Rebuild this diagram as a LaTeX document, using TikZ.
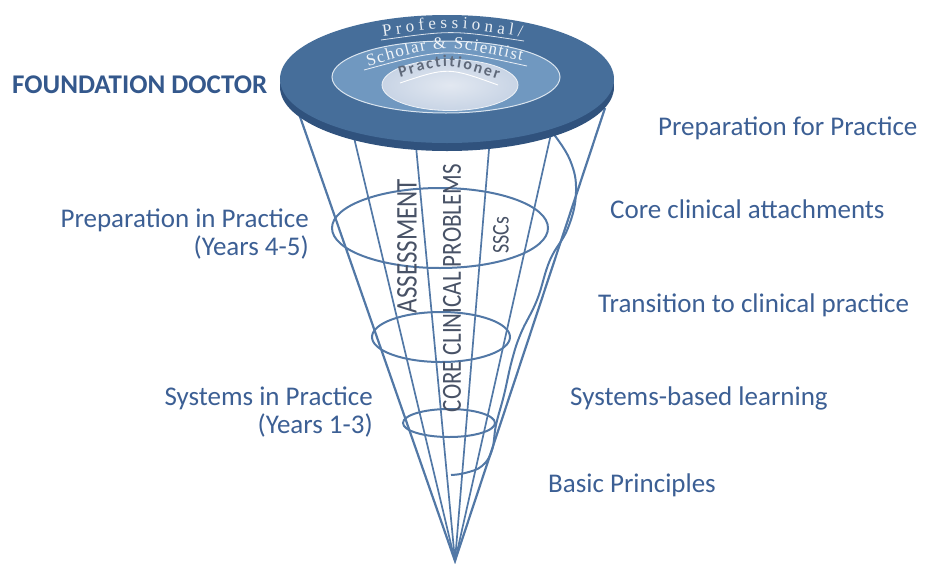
\documentclass[tikz,border=0pt]{standalone}
\usepackage{fontspec}
\setmainfont{Carlito}
\newfontfamily\discserif{Liberation Serif}
\usetikzlibrary{decorations.text}
\definecolor{lblue}{RGB}{60,95,148}
\definecolor{fdblue}{RGB}{52,88,140}
\definecolor{conecol}{RGB}{82,120,166}
\definecolor{conetxt}{RGB}{72,82,102}
\definecolor{discdark}{RGB}{48,82,125}
\definecolor{discouter}{RGB}{70,110,154}
\definecolor{discmid}{RGB}{112,152,192}
\definecolor{discin}{RGB}{200,212,229}
\definecolor{discinlight}{RGB}{226,232,241}
\definecolor{practxt}{RGB}{95,105,122}
\begin{document}
\begin{tikzpicture}[x=1pt,y=-1pt,
  lbl/.style={text=lblue, font=\fontsize{27}{30}\selectfont, inner sep=0pt},
  meridian/.style={draw=conecol, line width=1.7pt},
  rim/.style={draw=conecol, line width=2.2pt},
  ring/.style={draw=conecol, line width=2pt},
  conelbl/.style={text=conetxt, rotate=90, yscale=1.2, inner sep=0pt}
]
\useasboundingbox (0,0) rectangle (926,563);

% cone
\coordinate (apex) at (455,561);
\coordinate (tl) at (297,108);
\coordinate (tr) at (605,108);
\coordinate (m1) at (351,125);
\coordinate (m2) at (414,125);
\coordinate (m3) at (491,125);
\coordinate (m4) at (553,125);
\draw[rim] (tl) -- (apex) -- (tr);
\foreach \m in {m1,m2,m3,m4} \draw[meridian] (\m) -- (apex);

% rings of the spiral
\draw[ring] (440,228) ellipse [x radius=108, y radius=40];
\draw[ring] (441,337) ellipse [x radius=69, y radius=25];
\draw[ring] (449,423) ellipse [x radius=46, y radius=14];
\draw[ring] plot[smooth, tension=0.7] coordinates {(552,132) (570,160) (576,192) (568,228) (550,260) (537,300) (521,333) (512,360) (504,395) (496,425) (492,450) (482,466) (465,473) (451,475)};

% labels on the cone
\node[conelbl, font=\fontsize{25}{25}\selectfont] (assess) at (407,246) {ASSESSMENT};
\node[conelbl, font=\fontsize{23}{23}\selectfont] (core) at (452,288) {CORE CLINICAL PROBLEMS};
\node[conelbl, font=\fontsize{20}{20}\selectfont] (sscs) at (501,235) {SSCs};

% disc
\fill[discdark] (447,87) ellipse [x radius=167, y radius=64];
\fill[discouter] (447,79) ellipse [x radius=167, y radius=64];
\draw[white!75!discmid, line width=1pt, fill=discmid] (446,77) ellipse [x radius=114, y radius=36];
\shade[inner color=discinlight, outer color=discin] (450,85) ellipse [x radius=68, y radius=25.5];
\draw[white!70!discin, line width=0.8pt] (450,85) ellipse [x radius=68, y radius=25.5];

\path[decorate, decoration={text along path, text={|\discserif\fontsize{17}{17}\selectfont|Professional/}, text color=white!88!discouter, text align=fit to path}] (383,36) .. controls (452,26) .. (522,37);
\draw[white!80!discouter, line width=0.8pt] (381,40) .. controls (452,30) .. (524,41);
\path[decorate, decoration={text along path, text={|\discserif\fontsize{17}{17}\selectfont|Scholar {\&} Scientist}, text color=white!90!discmid, text align=fit to path}] (368,66) .. controls (445,44) .. (522,61);
\draw[white!85!discmid, line width=0.8pt] (364,70) .. controls (445,48) .. (527,66);
\path[decorate, decoration={text along path, text={|\bfseries\fontsize{16}{16}\selectfont|Practitioner}, text color=practxt, text align=fit to path}] (400,77) .. controls (448,63) .. (498,79);
\draw[white, line width=0.9pt] (400,83) .. controls (448,67) .. (498,85);

% side labels
\node[lbl, font=\bfseries\fontsize{27}{30}\selectfont, text=fdblue, anchor=base west] (fd) at (12,93) {FOUNDATION DOCTOR};
\node[lbl, anchor=base east] (pip) at (309,227) {Preparation in Practice};
\node[lbl, anchor=base east] (y45) at (309,255) {(Years 4-5)};
\node[lbl, anchor=base east] (sip) at (373,405) {Systems in Practice};
\node[lbl, anchor=base east] (y13) at (373,433) {(Years 1-3)};
\node[lbl, anchor=base west] (pfp) at (658,135) {Preparation for Practice};
\node[lbl, anchor=base west] (cca) at (610,218) {Core clinical attachments};
\node[lbl, anchor=base west] (tcp) at (598,312) {Transition to clinical practice};
\node[lbl, anchor=base west] (sbl) at (570,405) {Systems-based learning};
\node[lbl, anchor=base west] (bp) at (548,492) {Basic Principles};
\end{tikzpicture}
\end{document}
